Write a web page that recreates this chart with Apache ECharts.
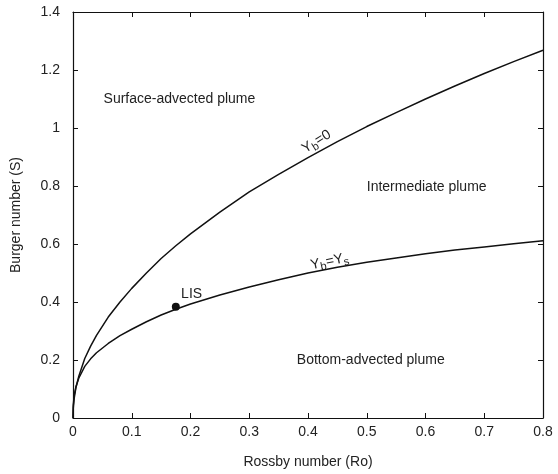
<!DOCTYPE html>
<html>
<head>
<meta charset="utf-8">
<script src="https://cdn.jsdelivr.net/npm/echarts@6/dist/echarts.min.js"></script>
<style>
  html, body { margin: 0; padding: 0; background: #fff; }
  #chart { width: 558px; height: 474px; }
</style>
</head>
<body>
<div id="chart"></div>
<script>
// Rossby number values (x) where the curves were read
var roValues = [0, 0.0005, 0.002, 0.005, 0.01, 0.02, 0.03, 0.04, 0.06, 0.08, 0.1, 0.125, 0.15, 0.175, 0.2, 0.25, 0.3, 0.35, 0.4, 0.45, 0.5, 0.55, 0.6, 0.65, 0.7, 0.75, 0.8];
// Yb=0 boundary (upper curve)
var ybZero = [0, 0.035, 0.068, 0.105, 0.145, 0.205, 0.248, 0.285, 0.348, 0.40, 0.447, 0.5, 0.55, 0.594, 0.635, 0.71, 0.78, 0.84, 0.898, 0.953, 1.005, 1.053, 1.10, 1.145, 1.188, 1.229, 1.268];
// Yb=Ys boundary (lower curve)
var ybYs = [0, 0.045, 0.078, 0.108, 0.138, 0.178, 0.204, 0.225, 0.257, 0.284, 0.306, 0.332, 0.355, 0.375, 0.393, 0.424, 0.452, 0.477, 0.50, 0.52, 0.537, 0.552, 0.566, 0.579, 0.59, 0.601, 0.611];
// LIS point
var lisPoint = [0.175, 0.384];

var xTicks = { min: 0, max: 0.8, interval: 0.1 };
var yTicks = { min: 0, max: 1.4, interval: 0.2 };

var font = 'Liberation Sans, Arial, Helvetica, sans-serif';
var txt = '#222';

function pairs(xs, ys) {
  var out = [];
  for (var i = 0; i < xs.length; i++) {
    out.push([xs[i], ys[i]]);
  }
  return out;
}

var chart = echarts.init(document.getElementById('chart'));

var axisCommon = {
  axisLine: { show: true, onZero: false, lineStyle: { color: '#111', width: 1.2 } },
  axisTick: { show: true, inside: true, length: 5, lineStyle: { color: '#111', width: 1 } },
  splitLine: { show: false }
};

var option = {
  animation: false,
  grid: { left: 73, right: 15, top: 12, bottom: 53 },
  xAxis: [
    Object.assign({
      type: 'value',
      min: xTicks.min, max: xTicks.max, interval: xTicks.interval,
      name: 'Rossby number (Ro)',
      nameLocation: 'middle',
      nameGap: 37,
      nameTextStyle: { fontFamily: font, fontSize: 14, color: txt },
      axisLabel: { fontFamily: font, fontSize: 14, color: txt, margin: 7 }
    }, axisCommon),
    Object.assign({
      type: 'value', position: 'top',
      min: xTicks.min, max: xTicks.max, interval: xTicks.interval,
      axisLabel: { show: false }
    }, axisCommon)
  ],
  yAxis: [
    Object.assign({
      type: 'value',
      min: yTicks.min, max: yTicks.max, interval: yTicks.interval,
      name: 'Burger number (S)',
      nameLocation: 'middle',
      nameGap: 50,
      nameTextStyle: { fontFamily: font, fontSize: 14, color: txt },
      axisLabel: { fontFamily: font, fontSize: 14, color: txt, margin: 13 }
    }, axisCommon),
    Object.assign({
      type: 'value', position: 'right',
      min: yTicks.min, max: yTicks.max, interval: yTicks.interval,
      axisLabel: { show: false }
    }, axisCommon)
  ],
  series: [
    {
      name: 'Yb=0',
      type: 'line',
      data: pairs(roValues, ybZero),
      showSymbol: false,
      lineStyle: { color: '#111', width: 1.5 }
    },
    {
      name: 'Yb=Ys',
      type: 'line',
      data: pairs(roValues, ybYs),
      showSymbol: false,
      lineStyle: { color: '#111', width: 1.5 }
    },
    {
      name: 'LIS',
      type: 'scatter',
      data: [lisPoint],
      symbolSize: 8,
      itemStyle: { color: '#111', opacity: 1 }
    }
  ]
};
chart.setOption(option);

// region and curve annotations, placed at data coordinates
function at(v, s) { return chart.convertToPixel({ xAxisIndex: 0, yAxisIndex: 0 }, [v, s]); }

var regionLabels = [
  { text: 'Surface-advected plume', pos: [0.052, 1.1] },
  { text: 'Intermediate plume', pos: [0.5, 0.797] },
  { text: 'Bottom-advected plume', pos: [0.381, 0.2] },
  { text: 'LIS', pos: [0.184, 0.427] }
];

var graphics = regionLabels.map(function (r) {
  var p = at(r.pos[0], r.pos[1]);
  return {
    type: 'text', x: p[0], y: p[1],
    style: { text: r.text, fontFamily: font, fontSize: 14, fill: txt, verticalAlign: 'middle' }
  };
});

var curveLabels = [
  { text: 'Y{sub|b}=0', pos: [0.423, 0.925], rot: 32 },
  { text: 'Y{sub|b}=Y{sub|s}', pos: [0.44, 0.508], rot: 12 }
];
curveLabels.forEach(function (c) {
  var p = at(c.pos[0], c.pos[1]);
  graphics.push({
    type: 'text', x: p[0], y: p[1], rotation: c.rot * Math.PI / 180,
    style: {
      text: c.text, fontFamily: font, fontSize: 14, fill: txt,
      align: 'center', verticalAlign: 'bottom',
      rich: {
        sub: { fontFamily: font, fontSize: 11, fill: txt, padding: [8, 0, 0, 0] }
      }
    }
  });
});

chart.setOption({ graphic: graphics });
</script>
</body>
</html>
